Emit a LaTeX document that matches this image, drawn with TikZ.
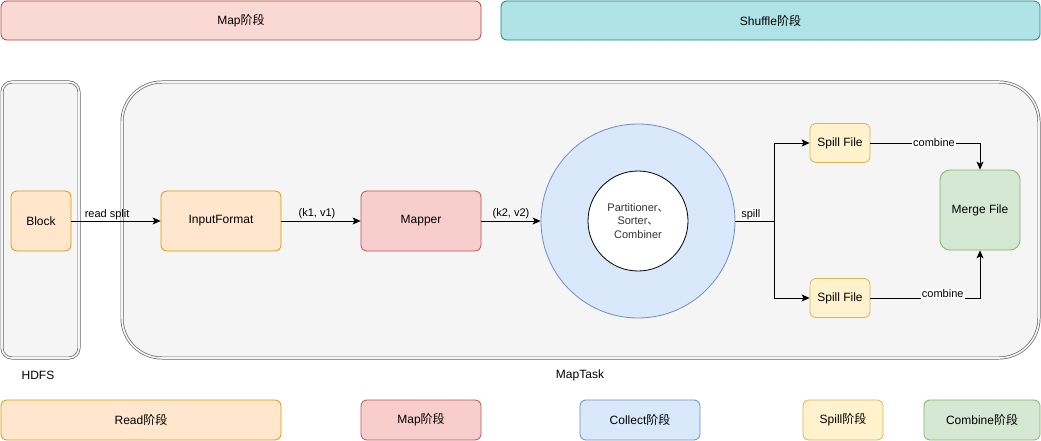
\documentclass[tikz,border=0pt]{standalone}
\usepackage{fontspec}
\setmainfont{Liberation Sans}
\newfontfamily\cjk{Noto Sans CJK SC}
\usetikzlibrary{arrows.meta}
\definecolor{redF}{HTML}{FAD9D5}\definecolor{redS}{HTML}{AE4132}
\definecolor{tealF}{HTML}{B0E3E6}\definecolor{tealS}{HTML}{0E8088}
\definecolor{grayF}{HTML}{F5F5F5}\definecolor{grayS}{HTML}{666666}
\definecolor{orgF}{HTML}{FFE6CC}\definecolor{orgS}{HTML}{D79B00}
\definecolor{pinkF}{HTML}{F8CECC}\definecolor{pinkS}{HTML}{B85450}
\definecolor{blueF}{HTML}{DAE8FC}\definecolor{blueS}{HTML}{6C8EBF}
\definecolor{yelF}{HTML}{FFF2CC}\definecolor{yelS}{HTML}{D6B656}
\definecolor{grnF}{HTML}{D5E8D4}\definecolor{grnS}{HTML}{82B366}
\begin{document}
\begin{tikzpicture}[x=1pt,y=-1pt,
  font=\fontsize{12}{14}\selectfont,
  box/.style={draw=#1S,fill=#1F,rounded corners=6pt,line width=0.8pt,inner sep=0pt},
  cont/.style={draw=grayS,fill=grayF,double=grayF,double distance=1.6pt,line width=0.7pt},
  lbl/.style={font=\fontsize{11}{13}\selectfont,inner sep=1pt},
  arr/.style={-{Stealth[length=8pt,width=7pt,inset=2pt]},line width=0.8pt}]
\useasboundingbox (0,0) rectangle (1041,441);
% top phases
\draw[box=red] (1,1) rectangle (481,40);
\node (mapTop) at (241,20.5) {Map{\cjk 阶段}};
\draw[box=teal] (501,1) rectangle (1040,40);
\node (shufTop) at (770.5,20.5) {Shuffle{\cjk 阶段}};
% containers
\draw[cont,rounded corners=10pt] (2,82) rectangle (79,358);
\draw[cont,rounded corners=40pt] (122,82) rectangle (1039,358);
\node (hdfs) at (38,375) {HDFS};
\node (maptask) at (580,375) {MapTask};
% nodes
\node[box=org,minimum width=60pt,minimum height=60pt] (block) at (41,221) {Block};
\node[box=org,minimum width=120pt,minimum height=60pt] (inf) at (221,221) {InputFormat};
\node[box=pink,minimum width=120pt,minimum height=60pt] (mapper) at (421,221) {Mapper};
\node[circle,draw=blueS,fill=blueF,line width=0.8pt,minimum size=194pt,inner sep=0pt] (ring) at (638,221) {};
\node[circle,draw=black,fill=white,line width=0.8pt,minimum size=100pt,inner sep=0pt,align=center,text=black!80,font=\fontsize{11}{13.5}\selectfont] (inner) at (638,221) {Partitioner{\cjk 、}\\Sorter{\cjk 、}\\Combiner};
\node[box=yel,minimum width=60pt,minimum height=39pt] (sp1) at (840,143) {Spill File};
\node[box=yel,minimum width=60pt,minimum height=39pt] (sp2) at (840,298) {Spill File};
\node[box=grn,minimum width=80pt,minimum height=80pt,rounded corners=10pt] (merge) at (980,210) {Merge File};
% connectors
\draw[arr] (block) -- node[lbl,above,pos=0.4] {read split} (inf);
\draw[arr] (inf) -- node[lbl,above,pos=0.45,yshift=1pt] {(k1, v1)} (mapper);
\draw[arr] (mapper) -- node[lbl,above,pos=0.5,yshift=1pt] {(k2, v2)} (ring);
\coordinate (fork) at (774,221);
\draw[line width=0.8pt] (ring.east) -- node[lbl,above,pos=0.4,fill=white] {spill} (fork);
\draw[arr] (fork) |- (sp1);
\draw[arr] (fork) |- (sp2);
\draw[arr] (sp1) -| node[lbl,pos=0.29,fill=white] {combine} (merge);
\draw[arr] (sp2) -| node[lbl,pos=0.33,above,yshift=-1pt,fill=white] {combine} (merge);
% bottom phases
\draw[box=org] (1,400) rectangle (281,440);
\node (readB) at (141,420) {Read{\cjk 阶段}};
\draw[box=pink] (361,400) rectangle (481,440);
\node (mapB) at (421,420) {Map{\cjk 阶段}};
\draw[box=blue] (580,400) rectangle (700,440);
\node (colB) at (640,420) {Collect{\cjk 阶段}};
\draw[box=yel] (803,400) rectangle (883,440);
\node (spB) at (843,420) {Spill{\cjk 阶段}};
\draw[box=grn] (924,400) rectangle (1040,440);
\node (comB) at (982,420) {Combine{\cjk 阶段}};
\end{tikzpicture}
\end{document}
